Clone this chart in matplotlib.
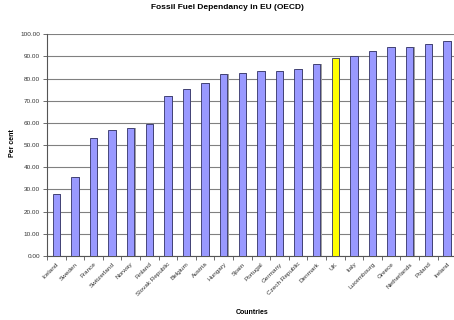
import matplotlib
matplotlib.use('Agg')
import numpy as np
import matplotlib.pyplot as plt

countries = ['Iceland', 'Sweden', 'France', 'Switzerland', 'Norway', 'Finland',
             'Slovak Republic', 'Belgium', 'Austria', 'Hungary', 'Spain', 'Portugal',
             'Germany', 'Czech Republic', 'Denmark', 'UK', 'Italy', 'Luxembourg',
             'Greece', 'Netherlands', 'Poland', 'Ireland']
values = [27.8, 35.8, 53.1, 56.8, 57.6, 59.4, 72.2, 75.2, 77.9, 82.0, 82.4, 83.3,
          83.3, 84.2, 86.8, 89.2, 90.1, 92.3, 94.1, 94.1, 95.8, 97.1]
highlight = 'UK'
y_ticks = np.arange(0, 101, 10)

plt.rcParams['font.family'] = ['Liberation Sans', 'DejaVu Sans']

fig = plt.figure(figsize=(4.54, 3.2), dpi=100)
n = len(countries)
# each category is ~18.6 px wide; the right end of the plot runs just past the figure
ax = fig.add_axes([47 / 454, 0.2, n * 18.6 / 454, 0.693])

x = np.arange(n)
colors = ['#FFFF00' if c == highlight else '#9999FF' for c in countries]
# soft grey shadow behind each bar
ax.bar(x + 0.07, values, width=0.39, color='#A0A0A0', linewidth=0, zorder=2)
ax.bar(x, values, width=0.39, color=colors, edgecolor='#333366', linewidth=0.6, zorder=3)

ax.set_xlim(-0.5, n - 0.5)
ax.set_ylim(0, 100)
ax.set_yticks(y_ticks)
ax.set_yticklabels([f'{v:.2f}' for v in y_ticks], fontsize=4.6, color='#333333')
ax.yaxis.grid(True, color='#808080', linewidth=0.8, zorder=0)
ax.set_axisbelow(True)

ax.set_xticks(x)
ax.set_xticklabels(countries, rotation=45, ha='right', rotation_mode='anchor',
                   fontsize=4.6, color='#333333')
ax.set_xticks(np.arange(n + 1) - 0.5, minor=True)
ax.tick_params(axis='x', which='major', length=0, pad=4)
ax.tick_params(axis='x', which='minor', length=3, width=0.6, color='#555555')
ax.tick_params(axis='y', length=3, width=0.6, color='#555555', pad=2)

for side in ['top', 'right']:
    ax.spines[side].set_visible(False)
for side in ['left', 'bottom']:
    ax.spines[side].set_color('#555555')
    ax.spines[side].set_linewidth(0.8)

fig.text(0.5, 0.978, 'Fossil Fuel Dependancy in EU (OECD)', ha='center', va='center',
         fontsize=6.0, fontweight='bold')
fig.text(252 / 454, 1 - 313 / 320, 'Countries', ha='center', va='center',
         fontsize=5, fontweight='bold')
fig.text(13 / 454, 1 - 143 / 320, 'Per cent', ha='center', va='center', rotation=90,
         fontsize=5, fontweight='bold')

fig.savefig('out.png', dpi=100)
